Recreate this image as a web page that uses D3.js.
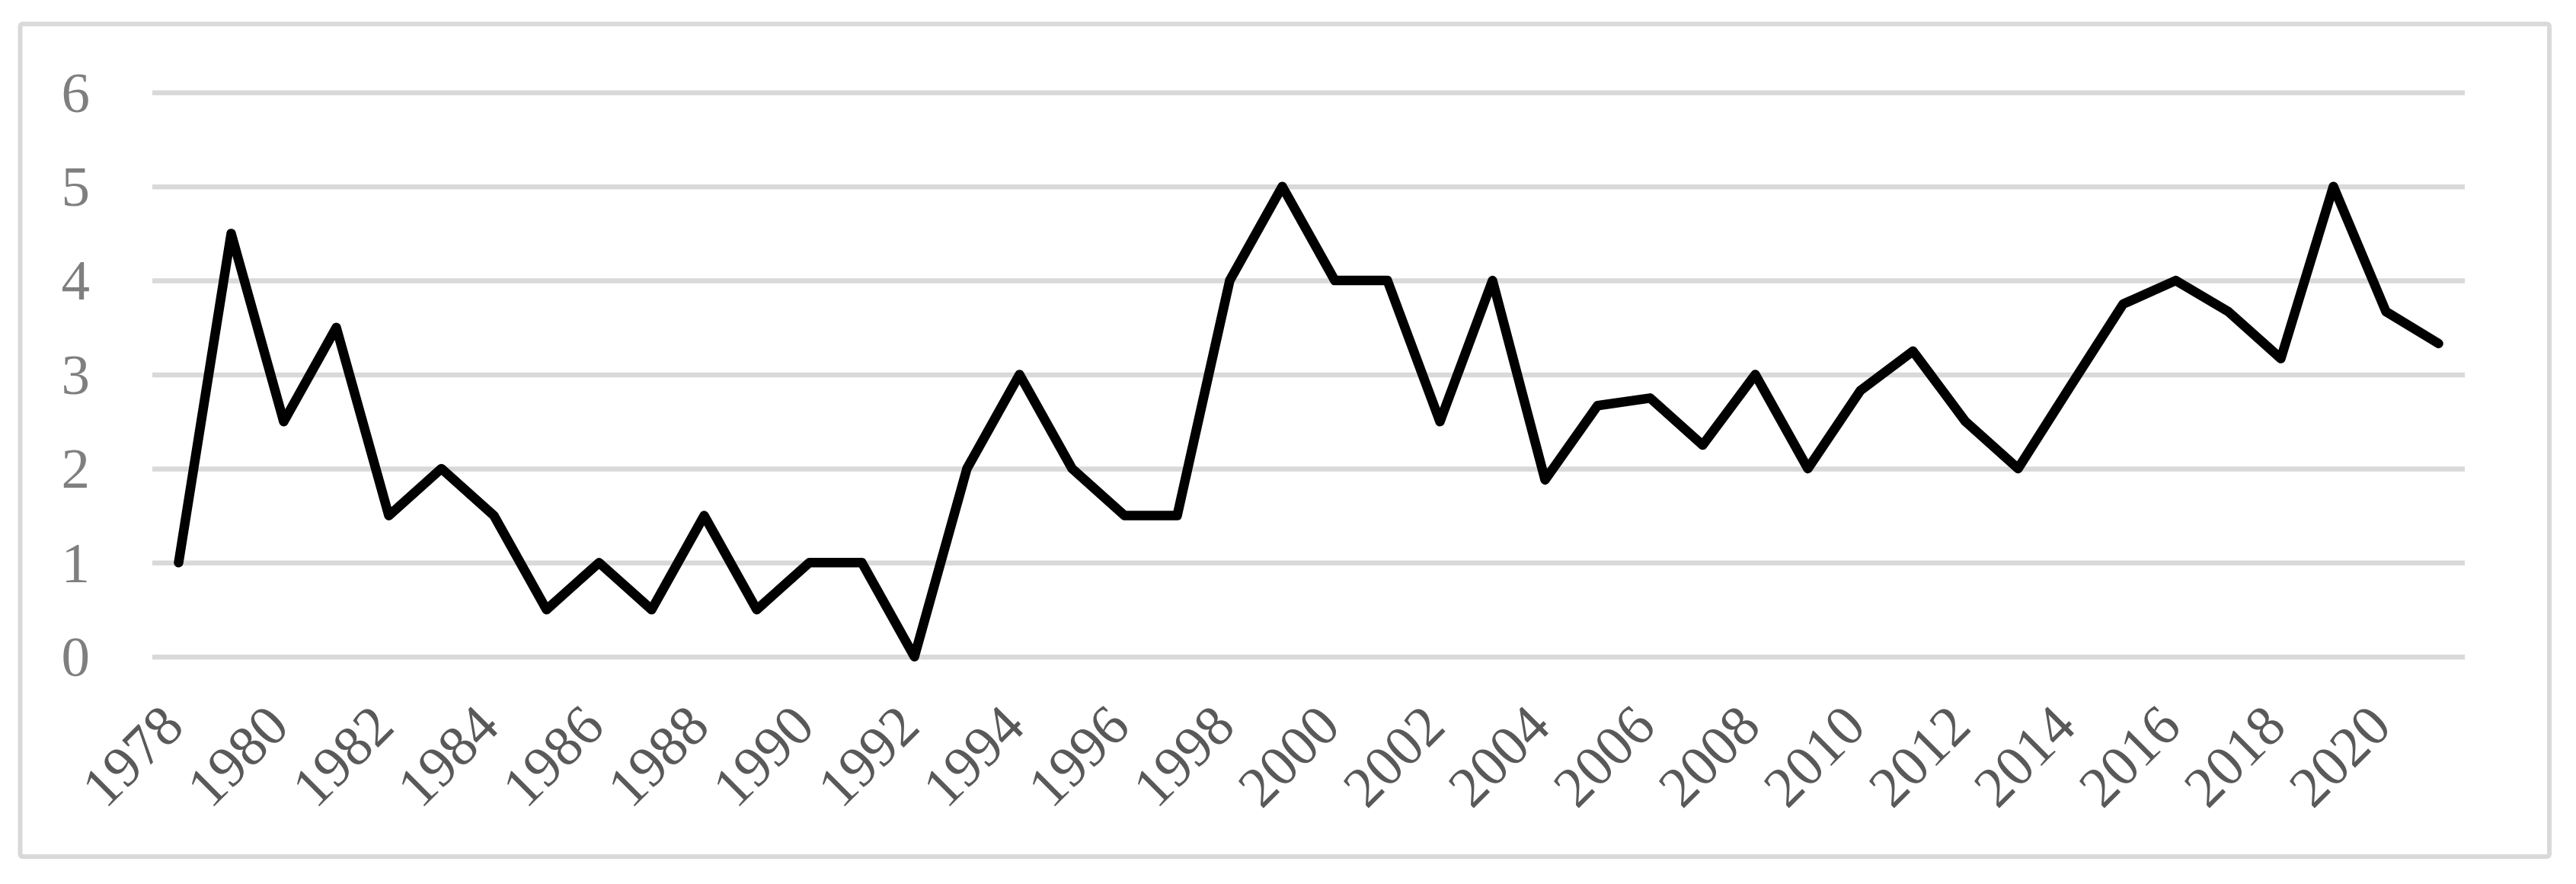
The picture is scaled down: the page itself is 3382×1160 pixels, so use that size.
<!DOCTYPE html>
<html>
<head>
<meta charset="utf-8">
<script src="https://cdn.jsdelivr.net/npm/d3@7"></script>
<style>
  html, body { margin: 0; padding: 0; background: #ffffff; }
  svg { display: block; }
</style>
</head>
<body>
<svg id="chart" width="3382" height="1160"></svg>
<script>
// ---- data ----
const years = [1978,1979,1980,1981,1982,1983,1984,1985,1986,1987,
               1988,1989,1990,1991,1992,1993,1994,1995,1996,1997,
               1998,1999,2000,2001,2002,2003,2004,2005,2006,2007,
               2008,2009,2010,2011,2012,2013,2014,2015,2016,2017,
               2018,2019,2020,2021];
const values = [1,4.5,2.5,3.5,1.5,2,1.5,0.5,1,0.5,
                1.5,0.5,1,1,0,2,3,2,1.5,1.5,
                4,5,4,4,2.5,4,1.88,2.67,2.75,2.25,
                3,2,2.83,3.25,2.5,2,2.88,3.75,4,3.67,
                3.17,5,3.67,3.33];
const xTickLabels = [1978,1980,1982,1984,1986,1988,1990,1992,1994,1996,1998,
                     2000,2002,2004,2006,2008,2010,2012,2014,2016,2018,2020];
const yTicks = [0,1,2,3,4,5,6];

// ---- layout ----
const W = 3382, H = 1160;
const plotL = 200, plotR = 3236, plotT = 121.3, plotB = 861.7;

const svg = d3.select("#chart");
svg.append("rect").attr("x",0).attr("y",0).attr("width",W).attr("height",H).attr("fill","#ffffff");

// chart border
svg.append("rect")
  .attr("x",26.5).attr("y",31.5)
  .attr("width",3320.5).attr("height",1092.5)
  .attr("rx",3)
  .attr("fill","none")
  .attr("stroke","#d9d9d9")
  .attr("stroke-width",6);

const x = d3.scaleBand().domain(years).range([plotL, plotR]).paddingInner(0).paddingOuter(0);
const y = d3.scaleLinear().domain([0,6]).range([plotB, plotT]);
const cx = d => x(d) + x.bandwidth()/2;

// y axis with gridlines
const yAxis = svg.append("g")
  .attr("transform", `translate(${plotL},0)`)
  .call(d3.axisLeft(y).tickValues(yTicks).tickSize(-(plotR-plotL)).tickPadding(82).tickFormat(d3.format("d")));
yAxis.select(".domain").remove();
yAxis.selectAll(".tick line").attr("stroke","#d9d9d9").attr("stroke-width",6.5);
yAxis.selectAll(".tick text")
  .attr("fill","#7f7f7f")
  .attr("font-family","'Liberation Serif', 'Times New Roman', serif")
  .attr("font-size",75)
  .attr("dy","0.33em");

// x axis labels
const xAxis = svg.append("g")
  .attr("transform", `translate(0,${plotB})`)
  .call(d3.axisBottom(x).tickValues(xTickLabels).tickSize(0).tickFormat(d3.format("d")));
xAxis.select(".domain").remove();
xAxis.selectAll(".tick text")
  .attr("x",0).attr("y",0).attr("dy",0)
  .attr("text-anchor","end")
  .attr("transform","translate(10,95) rotate(-45)")
  .attr("fill","#595959")
  .attr("font-family","'Liberation Serif', 'Times New Roman', serif")
  .attr("font-size",75);

// line
const line = d3.line().x((d,i) => cx(years[i])).y(d => y(d));
svg.append("path")
  .datum(values)
  .attr("d", line)
  .attr("fill","none")
  .attr("stroke","#000000")
  .attr("stroke-width",12.5)
  .attr("stroke-linejoin","round")
  .attr("stroke-linecap","round");
</script>
</body>
</html>
